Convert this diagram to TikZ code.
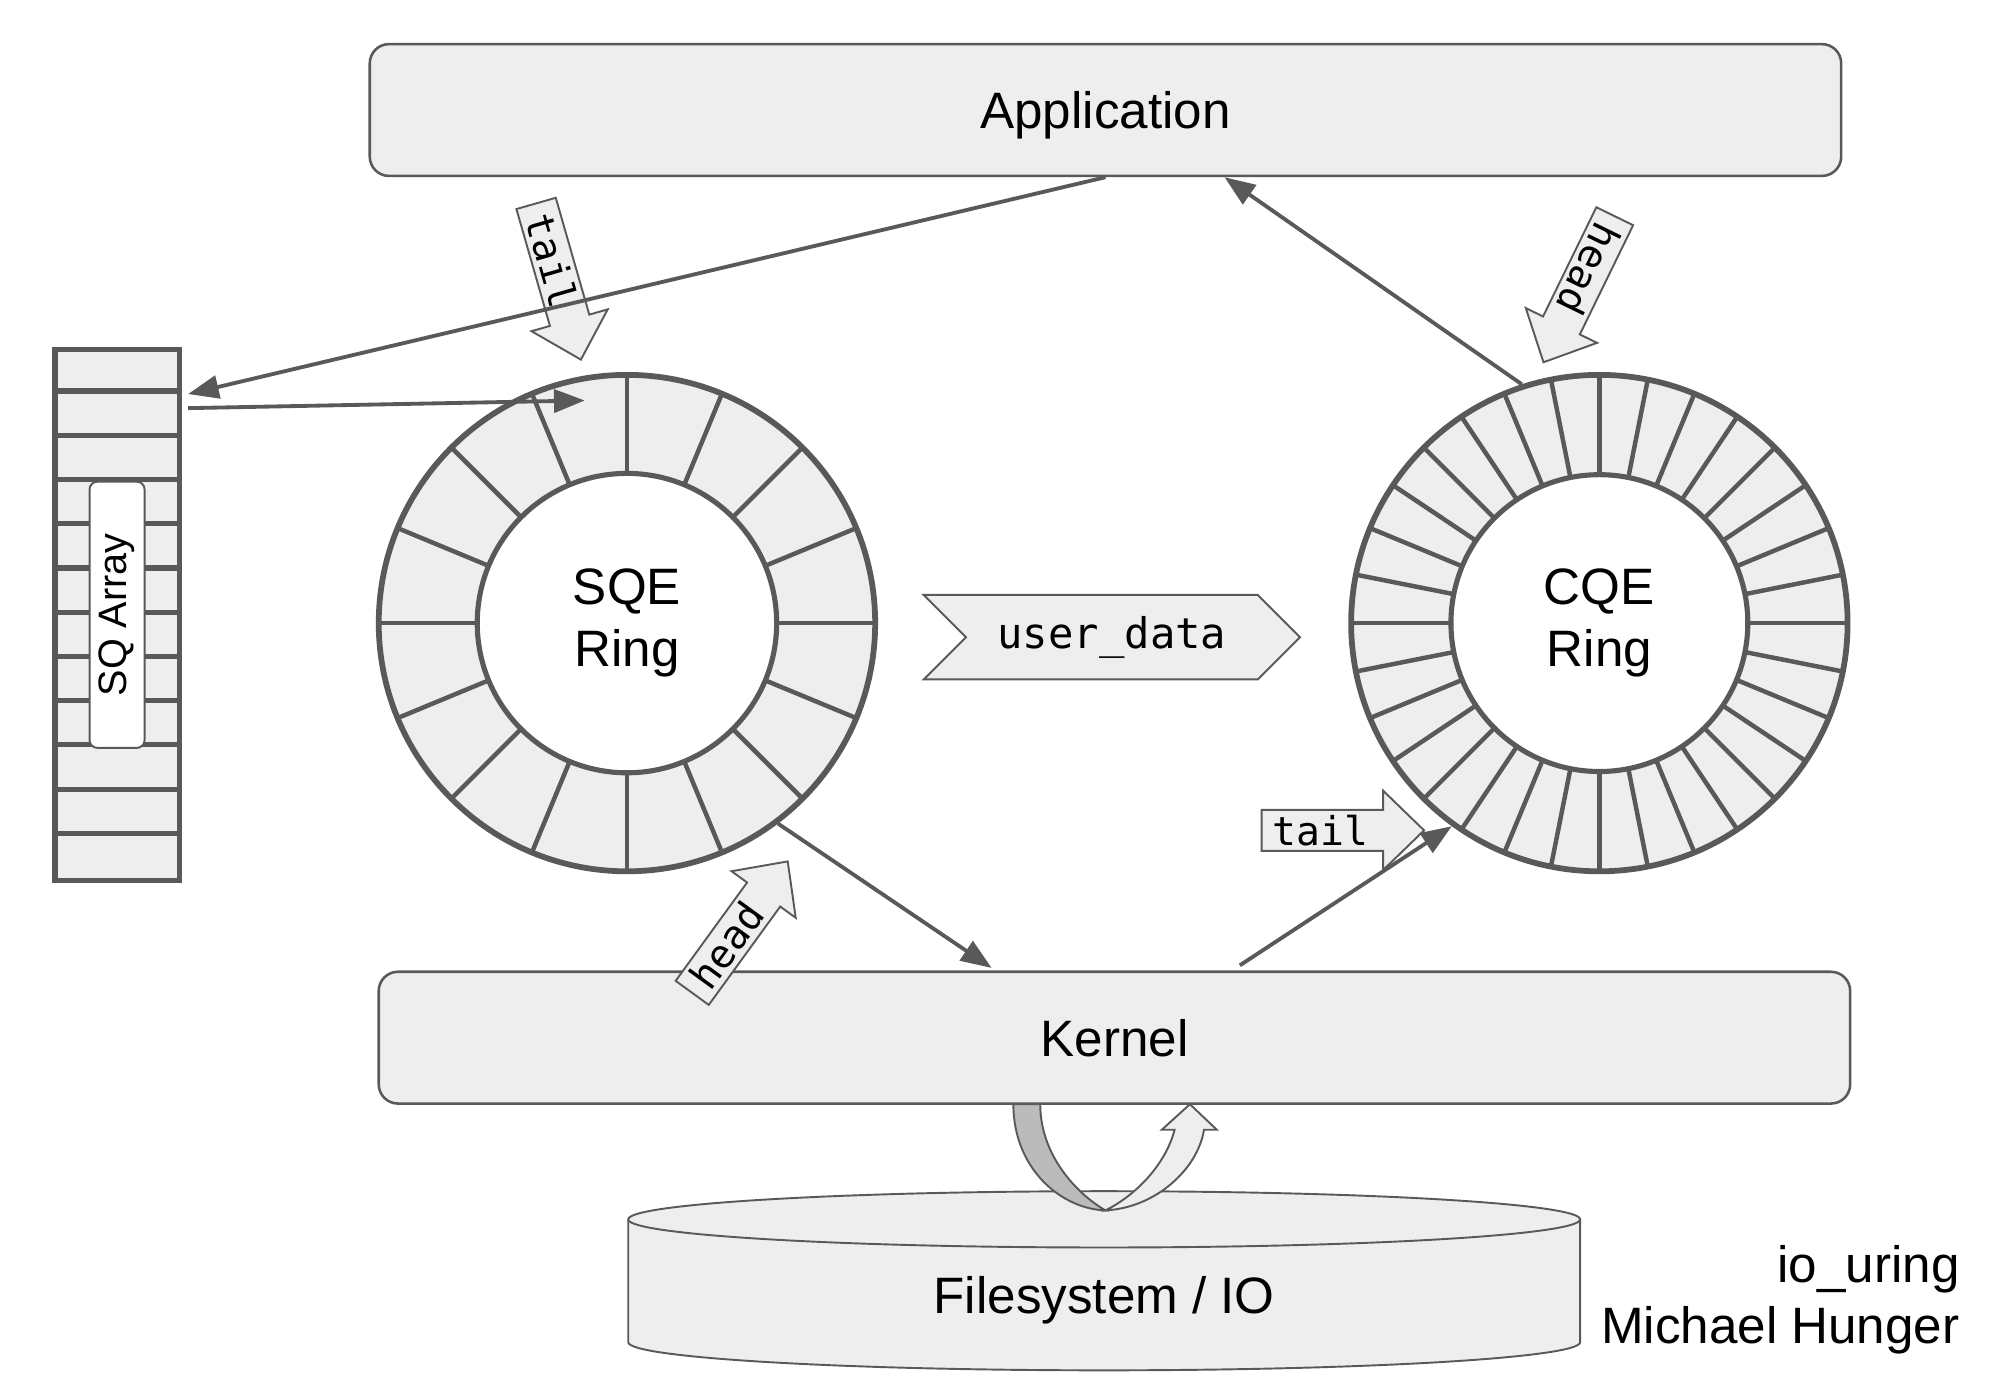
\documentclass[tikz,border=0pt]{standalone}
\usepackage{fontspec}
\setmainfont{Liberation Sans}
\newfontfamily\codefont{DejaVu Sans Mono}
\usepackage{xcolor}
\usetikzlibrary{arrows.meta}
\usetikzlibrary{shapes.symbols}
\definecolor{linegray}{HTML}{595959}
\definecolor{boxgray}{HTML}{EEEEEE}
\definecolor{foldgray}{HTML}{BBBBBB}
\tikzset{
  every node/.style = {font = \fontsize{40}{48}\selectfont}
}
\tikzset{
    >={Triangle[length=24pt,width=18pt]}
}
\tikzset{
  layer/.style = {draw=linegray, fill=boxgray, line width=2pt, rounded corners=15pt,
    minimum width=1150pt, minimum height=103pt, text depth=0pt},
  ringout/.style = {circle, draw=linegray, fill=boxgray, line width=4.5pt,
    minimum size=388pt, inner sep=0pt},
  ringin/.style = {circle, draw=linegray, fill=white, line width=4pt,
    minimum size=234pt, inner sep=0pt, align=center},
  spoke/.style = {draw=linegray, line width=3.5pt},
  flow/.style = {->, draw=linegray, line width=3pt},
  fat/.style = {draw=linegray, fill=boxgray, line width=1.5pt},
  code/.style = {font = \fontsize{31}{37}\codefont}
}
% fat arrow: base point, angle, name, text
\newcommand{\fatarrow}[4]{%
  \begin{scope}[shift={#1}, rotate=#2]
    \draw[fat] (0,-16) -- (95,-16) -- (95,-31) -- (127,0) -- (95,31)
      -- (95,16) -- (0,16) -- cycle;
    \node[code, transform shape, inner sep=0pt] (#3) at (46,0) {#4};
  \end{scope}}

\begin{document}
\begin{tikzpicture}[x=1pt,y=1pt]
\useasboundingbox (0,0) rectangle (1560,1086);

% The two layers
\node[layer] (app) at (864,1000) {Application};
\node[layer] (kern) at (871,275) {Kernel};

% SQ array
\node[draw=linegray, fill=boxgray, line width=4pt, minimum width=97pt,
  minimum height=415pt, inner sep=0pt] (sqarr) at (91.5,605.5) {};
\foreach \k in {1,...,11}
  \draw[linegray, line width=4pt] (sqarr.north west) ++(0,{-34.58*\k}) -- ++(97,0);
\node[draw=linegray, fill=white, line width=1.5pt, rounded corners=6pt,
  minimum width=208pt, minimum height=43pt, inner sep=2pt, rotate=90,
  font=\fontsize{31}{36}\selectfont] (sqlab) at (sqarr.center) {SQ Array};

% The rings
\node[ringout] (sqe) at (490,599) {};
\foreach \a in {0,22.5,...,337.5}
  \draw[spoke] (sqe.center) ++(\a:117) -- ++(\a:78);
\node[ringin] (sqein) at (sqe.center) {SQE\\Ring};

\node[ringout] (cqe) at (1250,599) {};
\foreach \a in {0,11.25,...,348.75}
  \draw[spoke] (cqe.center) ++(\a:116) -- ++(\a:79);
\node[ringin, minimum size=232pt] (cqein) at (cqe.center) {CQE\\Ring};

% user data
\node[signal, signal to=east, signal from=west, signal pointer angle=90,
  draw=linegray, fill=boxgray, line width=1.5pt, minimum width=294pt,
  minimum height=66pt, inner sep=0pt, font=\fontsize{33}{38}\codefont]
  (udata) at (869,588) {user\_data};

% File system
\draw[fat] (491,133) -- (491,37) arc[start angle=180, end angle=360,
  x radius=372, y radius=22] -- (1235,133) arc[start angle=0, end angle=180,
  x radius=372, y radius=22] -- cycle;
\draw[linegray, line width=1.5pt] (491,133) arc[start angle=180, end angle=360,
  x radius=372, y radius=22];
\node (fs) at (863,70) {Filesystem / IO};

% Loop kernel -> file system -> kernel
\draw[fat, fill=foldgray] (792,223) .. controls (792,172) and (830,141) .. (864,140)
  .. controls (843,152) and (813,182) .. (813,223) -- cycle;
\draw[fat] (864,140) .. controls (903,142) and (936,172) .. (941,203)
  -- (951,203) -- (930,223) -- (908,203) -- (918,203)
  .. controls (911,176) and (888,152) .. (864,140) -- cycle;

% Head and tail pointers
\fatarrow{(419,927)}{-74}{sqtail}{tail}
\fatarrow{(1262,917)}{-116}{cqhead}{head}
\fatarrow{(541,310)}{54}{sqhead}{head}
\fatarrow{(986,437)}{0}{cqtail}{tail}

% Arrows
\draw[flow] (app.south) -- ([xshift=5pt,yshift=-37pt]sqarr.north east);
\draw[flow] ([xshift=5pt,yshift=-48pt]sqarr.north east)
  -- ([xshift=-33pt,yshift=174pt]sqe.center);
\draw[flow] (cqe.108) -- ([xshift=93pt]app.south);
\draw[flow] (sqe.-53) -- ([xshift=-96pt,yshift=2pt]kern.north);
\draw[flow] ([xshift=98pt,yshift=4pt]kern.north) -- (cqe.-126);

% Signature
\node[anchor=east, align=right] (sign) at (1535,70) {io\_uring\\Michael Hunger};
\end{tikzpicture}
\end{document}
